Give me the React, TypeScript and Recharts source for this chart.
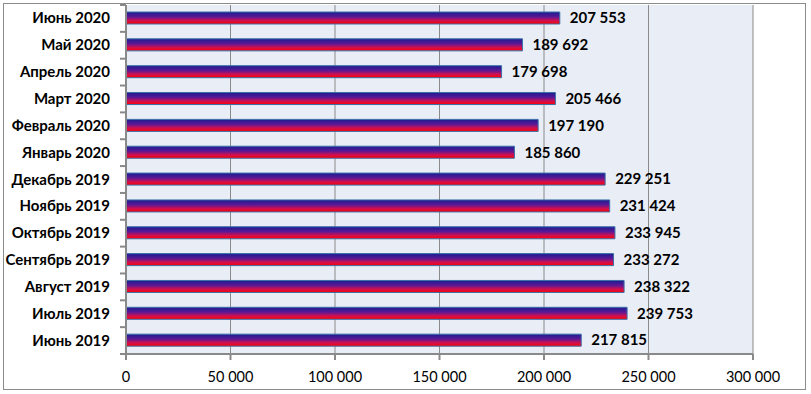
import React from 'react';
import { BarChart, Bar, XAxis, YAxis, CartesianGrid, LabelList } from 'recharts';

const months = [
  'Июнь 2020', 'Май 2020', 'Апрель 2020', 'Март 2020', 'Февраль 2020', 'Январь 2020',
  'Декабрь 2019', 'Ноябрь 2019', 'Октябрь 2019', 'Сентябрь 2019', 'Август 2019', 'Июль 2019', 'Июнь 2019',
];
const values = [
  207553, 189692, 179698, 205466, 197190, 185860,
  229251, 231424, 233945, 233272, 238322, 239753, 217815,
];
const xTicks = [0, 50000, 100000, 150000, 200000, 250000, 300000];

const data = months.map((m, i) => ({ month: m, value: values[i] }));

const fmt = (v: number) => String(v).replace(/\B(?=(\d{3})+(?!\d))/g, ' ');

const W = 811;
const H = 394;
const M = { top: 5, right: 58, left: 0, bottom: 0 };
const Y_W = 126;
const X_H = 40;
const plotH = H - M.top - M.bottom - X_H;
const band = plotH / months.length;
const FONT = 'Lato, "Open Sans", sans-serif';

const YTick = (props: any) => {
  const { x, y, payload, index } = props;
  const axX = x + 8;
  return (
    <g>
      <line x1={axX - 6} x2={axX} y1={y - band / 2} y2={y - band / 2} stroke="#888" strokeWidth={2} />
      {index === months.length - 1 && (
        <line x1={axX - 6} x2={axX} y1={y + band / 2} y2={y + band / 2} stroke="#888" strokeWidth={2} />
      )}
      <text x={axX - 16} y={y} dy={5} textAnchor="end" fontFamily={FONT} fontWeight="bold" fontSize={15} fill="#000">
        {payload.value}
      </text>
    </g>
  );
};

export default function App() {
  return (
    <div style={{ position: 'absolute', left: 0, top: 0, width: W, height: H, background: '#fff' }}>
      <div style={{ position: 'absolute', left: 3, top: 3, width: 801, height: 385, border: '1.5px solid #8c8c8c' }} />
      <div style={{ position: 'absolute', left: 0, top: 0 }}>
        <BarChart width={W} height={H} data={data} layout="vertical" margin={M} barSize={12}>
          <defs>
            <linearGradient id="barGrad" x1="0" y1="0" x2="0" y2="1">
              <stop offset="0%" stopColor="#1c1c90" />
              <stop offset="40%" stopColor="#5a1896" />
              <stop offset="72%" stopColor="#d01050" />
              <stop offset="100%" stopColor="#ff0000" />
            </linearGradient>
          </defs>
          <CartesianGrid horizontal={false} vertical={true} stroke="#8a8a8a" strokeWidth={1} fill="#E9EDF6" />
          <XAxis
            type="number"
            domain={[0, 300000]}
            ticks={xTicks}
            height={X_H}
            tickFormatter={fmt}
            axisLine={{ stroke: '#8a8a8a', strokeWidth: 2 }}
            tickLine={{ stroke: '#8a8a8a', strokeWidth: 2 }}
            tickSize={6}
            tick={{ fontFamily: FONT, fontSize: 14.5, fill: '#000', dy: 10 }}
          />
          <YAxis
            type="category"
            dataKey="month"
            width={Y_W}
            axisLine={{ stroke: '#8a8a8a', strokeWidth: 2 }}
            tickLine={false}
            tick={<YTick />}
            interval={0}
          />
          <Bar dataKey="value" fill="url(#barGrad)" stroke="#3a6fa8" strokeWidth={1} isAnimationActive={false}>
            <LabelList
              dataKey="value"
              position="right"
              offset={10}
              formatter={(v: any) => fmt(Number(v))}
              style={{ fontFamily: FONT, fontWeight: 'bold', fontSize: 15, fill: '#000' }}
            />
          </Bar>
        </BarChart>
      </div>
    </div>
  );
}
